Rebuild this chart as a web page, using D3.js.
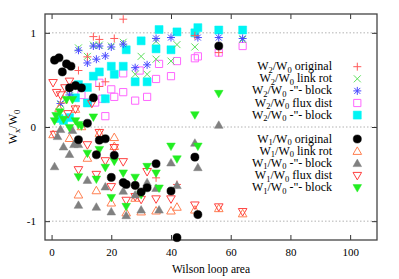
<!DOCTYPE html>
<html><head><meta charset="utf-8">
<script src="https://cdn.jsdelivr.net/npm/d3@7"></script>
<style>body{margin:0;background:#fff}svg{display:block}text{font-family:"Liberation Serif","Times New Roman",serif;fill:#000}</style>
</head><body><svg id="c" width="399" height="279"></svg>
<script>
// ---- data (Wilson loop area, ratio) ----
const xTicks = [0, 20, 40, 60, 80, 100];
const yTicks = [-1, 0, 1];
const w2Original = [[9,0.60],[12,0.745],[14,0.96],[16,0.93],[16,0.43],[18,0.48],[21,0.94],[24,1.145],[48,0.97],[56,0.79],[28,-0.62],[35,-0.54],[42,-0.61],[15,-0.29]];
const w2LinkRot = [[3,0.24],[6,0.33],[9,0.84],[12,0.75],[14,0.87],[16,0.87],[20,0.86],[24,0.9],[28,0.56],[30,0.75],[32,0.56],[35,0.72],[35,0.91],[40,0.70],[42,0.875],[48,0.85],[64,0.93]];
const w2LinkBlock = [[3,0.25],[6,0.34],[9,0.815],[12,0.68],[14,0.86],[15,0.72],[16,0.86],[18,0.755],[20,0.85],[24,0.88],[28,0.63],[32,0.66],[35,0.94],[40,0.95],[49,0.95],[56,0.95],[64,0.94]];
const w2FluxDist = [[10,0.34],[12,0.26],[14.6,0.26],[16,0.47],[18,0.115],[17,0.30],[20,0.40],[21,0.32],[24,0.37],[24,0.57],[28,0.28],[29.5,0.60],[32,0.32],[35,0.51],[36,0.67],[40,0.54],[42,0.70],[48,0.73],[49,0.75],[56,0.79],[64,0.86]];
const w2FluxBlock = [[2.5,0.09],[4,0.07],[6,0.1],[8,0.31],[9,0.45],[12,0.42],[12,0.255],[14,0.54],[16,0.585],[18,0.30],[20,0.645],[21,0.56],[24,0.645],[25,0.82],[28,0.48],[30,0.915],[32,0.48],[35,0.83],[36,1.035],[40,0.82],[42,1.01],[48,1.0],[49,1.055],[56,1.03],[64,1.03]];
const w1Original = [[1,0.71],[2.5,0.735],[3.6,0.585],[5,0.67],[6.5,0.645],[6,0.415],[8,0.44],[10,0.415],[14,0.31],[12,0.04],[9,-0.135],[16,-0.14],[18,-0.125],[15,-0.295],[21,-0.30],[20,-0.535],[24,-0.59],[25,-0.61],[28,-0.62],[30,-0.69],[32,-0.645],[35,-0.39],[40,-0.68],[42,-1.175],[48,-0.32],[49,-0.93],[56,0.86]];
const w1LinkRot = [[0.5,-0.08],[2.5,0.2],[4,0.29],[6,-0.12],[8,0.19],[9,-0.72],[10,0.005],[12,-0.33],[15,-0.675],[16,-0.065],[20,-0.805],[21,-0.11],[21,-0.205],[25,-0.91],[28,-0.755],[30,-0.9],[35,-0.89],[40,-0.89],[42,-0.85],[48,-0.88],[56,-0.865],[64,-0.92]];
const w1LinkBlock = [[1,-0.42],[2,-0.1],[3,-0.025],[4,-0.21],[6,-0.29],[7,-0.035],[7.5,-0.185],[9,-0.185],[9,-0.83],[12,-0.565],[15,-0.85],[18,-0.635],[20,-0.9],[24,-0.68],[25,-0.94],[28,-0.72],[30,-0.88],[32,-0.59],[35,-0.65],[36,-0.88],[40,-0.38],[42,-0.62],[48,-0.17],[49,-0.43],[56,0.02]];
const w1FluxDist = [[0.5,0.47],[1.7,0.365],[3,0.34],[4.5,0.415],[6,0.485],[5.5,0.14],[8,0.19],[13.5,0.25],[1,-0.08],[12,-0.19],[16,-0.06],[21,-0.22],[18,-0.36],[24,-0.37],[9,-0.455],[15,-0.505],[20,-0.635],[25,-0.78],[28,-0.74],[30,-0.77],[32,-0.475],[35,-0.765],[40,-0.765],[48,-0.83],[56,-0.85],[64,-0.9]];
const w1FluxBlock = [[1,0.065],[1.5,0.12],[2.8,0.16],[4,0.08],[5,0.29],[7,0.29],[6,-0.007],[8,0.065],[9,0.025],[10,0.01],[14,0.105],[9,-0.53],[12,-0.28],[15,-0.555],[16,-0.24],[18,-0.43],[20,-0.75],[21,-0.365],[24,-0.49],[25,-0.845],[28,-0.535],[30,-0.72],[32,-0.42],[35,-0.49],[36,-0.65],[40,-0.205],[42,-0.34],[48,0.128],[49,-0.205],[56,0.355]];

const series = [
  {n:"2", label:" original", data:w2Original, sym:"plus", color:"#ff5a5a"},
  {n:"2", label:" link rot", data:w2LinkRot, sym:"cross", color:"#5de05d"},
  {n:"2", label:" -\"- block", data:w2LinkBlock, sym:"star", color:"#4848ff"},
  {n:"2", label:" flux dist", data:w2FluxDist, sym:"osquare", color:"#ff66ff"},
  {n:"2", label:" -\"- block", data:w2FluxBlock, sym:"fsquare", color:"#00f4f4"},
  {n:"1", label:" original", data:w1Original, sym:"fcircle", color:"#000000"},
  {n:"1", label:" link rot", data:w1LinkRot, sym:"otri", color:"#ff7f50"},
  {n:"1", label:" -\"- block", data:w1LinkBlock, sym:"ftri", color:"#808080"},
  {n:"1", label:" flux dist", data:w1FluxDist, sym:"odtri", color:"#ff4040"},
  {n:"1", label:" -\"- block", data:w1FluxBlock, sym:"fdtri", color:"#22ee22"}
];
const drawOrder = [3,4,1,2,0,6,8,7,9,5];

const svg = d3.select("#c");
const L=45, R=377, T=14, B=240;
const x = d3.scaleLinear().domain([-2.2,109]).range([L,R]);
const y = d3.scaleLinear().domain([-1.2,1.2]).range([B,T]);

// grid
svg.append("g").selectAll("line").data(yTicks).join("line")
  .attr("x1",L).attr("x2",R).attr("y1",d=>y(d)).attr("y2",d=>y(d))
  .attr("stroke","#a0a0a0").attr("stroke-width",0.8).attr("stroke-dasharray","1.5,2");

// axes
const fs = 11;
const ax = svg.append("g").attr("transform",`translate(0,${B})`)
  .call(d3.axisBottom(x).tickValues(xTicks).tickSize(-5).tickPadding(8));
const axT = svg.append("g").attr("transform",`translate(0,${T})`)
  .call(d3.axisTop(x).tickValues(xTicks).tickSize(-5).tickFormat(""));
const ay = svg.append("g").attr("transform",`translate(${L},0)`)
  .call(d3.axisLeft(y).tickValues(yTicks).tickSize(-5).tickPadding(9).tickFormat(d=>d===-1?"-1":d3.format("d")(d)));
const ayR = svg.append("g").attr("transform",`translate(${R},0)`)
  .call(d3.axisRight(y).tickValues(yTicks).tickSize(-5).tickFormat(""));
[ax,axT,ay,ayR].forEach(g=>{
  g.select(".domain").remove();
  g.selectAll(".tick line").attr("stroke","#333");
  g.selectAll("text").style("font-family",'"Liberation Serif",serif').style("font-size",fs+"px").attr("fill","#000");
});
svg.append("rect").attr("x",L).attr("y",T).attr("width",R-L).attr("height",B-T)
  .attr("fill","none").attr("stroke","#444").attr("stroke-width",1.3);

// symbols
function symPath(s){
  const a=4;
  switch(s){
    case "plus": return `M${-a},0H${a}M0,${-a}V${a}`;
    case "cross": return `M-3.5,-3.5L3.5,3.5M-3.5,3.5L3.5,-3.5`;
    case "star": return `M${-a},0H${a}M0,${-a}V${a}M-3,-3L3,3M-3,3L3,-3`;
    case "osquare": return `M-3.6,-3.6H3.6V3.6H-3.6Z`;
    case "fsquare": return `M-4,-4H4V4H-4Z`;
    case "fcircle": return d3.symbol(d3.symbolCircle, 52)();
    case "otri": case "ftri": return `M0,-4.3L4.3,3.2H-4.3Z`;
    case "odtri": case "fdtri": return `M0,4.3L4.3,-3.2H-4.3Z`;
  }
}
function styleSym(sel, s){
  const filled = ["fsquare","fcircle","ftri","fdtri"].includes(s.sym);
  sel.attr("d", symPath(s.sym))
    .attr("fill", filled ? s.color : "none")
    .attr("stroke", s.color)
    .attr("stroke-width", filled ? 0.5 : 1);
}
const plot = svg.append("g");
drawOrder.forEach(i=>{
  const s = series[i];
  plot.append("g").selectAll("path").data(s.data).join("path")
    .attr("transform", d=>`translate(${x(d[0])},${y(d[1])})`)
    .call(sel=>styleSym(sel,s));
});

// legend
const lg = svg.append("g");
series.forEach((s,i)=>{
  const yy = i<5 ? 66.7 + i*12.1 : 139 + (i-5)*12.2;
  const t = lg.append("text").attr("x",332).attr("y",yy+3.5).attr("text-anchor","end").style("font-size","12px");
  t.append("tspan").text("W");
  t.append("tspan").attr("dy",2.5).style("font-size","8.5px").text(s.n);
  t.append("tspan").attr("dy",-2.5).text("/W");
  t.append("tspan").attr("dy",2.5).style("font-size","8.5px").text("0");
  t.append("tspan").attr("dy",-2.5).text(s.label);
  lg.append("path").attr("transform",`translate(357.3,${yy})`).call(sel=>styleSym(sel,s));
});

// axis labels
svg.append("text").attr("x",(L+R)/2).attr("y",273).attr("text-anchor","middle").style("font-size","11.5px").text("Wilson loop area");
const yl = svg.append("text").attr("transform",`translate(17,${(T+B)/2}) rotate(-90)`).attr("text-anchor","middle").style("font-size","12px");
yl.append("tspan").text("W");
yl.append("tspan").attr("dy",2.5).style("font-size","8.5px").text("x");
yl.append("tspan").attr("dy",-2.5).text("/W");
yl.append("tspan").attr("dy",2.5).style("font-size","8.5px").text("0");
</script></body></html>
